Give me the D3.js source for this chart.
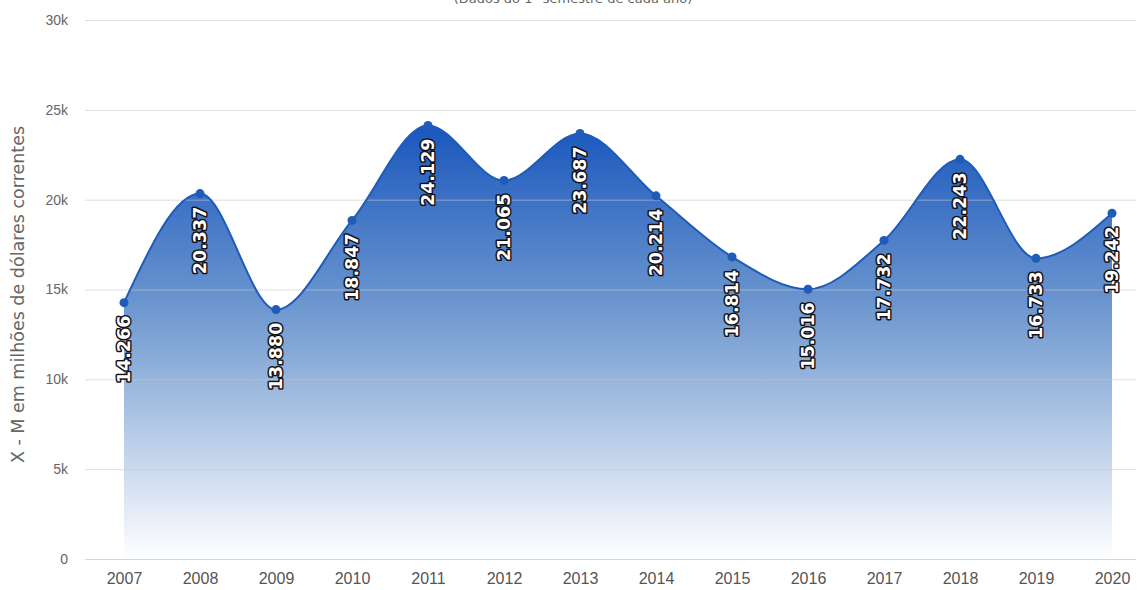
<!DOCTYPE html>
<html>
<head>
<meta charset="utf-8">
<script src="https://cdn.jsdelivr.net/npm/d3@7"></script>
<style>
  body { margin: 0; background: #fff; }
  svg { display: block; font-family: "DejaVu Sans", Verdana, sans-serif; }
</style>
</head>
<body>
<div id="chart"></div>
<script>
// data (saldo X - M, 1º semestre)
var years = [2007, 2008, 2009, 2010, 2011, 2012, 2013, 2014, 2015, 2016, 2017, 2018, 2019, 2020];
var saldo = [14266, 20337, 13880, 18847, 24129, 21065, 23687, 20214, 16814, 15016, 17732, 22243, 16733, 19242];
var yTicks = [0, 5000, 10000, 15000, 20000, 25000, 30000];
var subtitle = "(Dados do 1º semestre de cada ano)";
var yTitle = "X - M em milhões de dólares correntes";

var W = 1137, H = 590;
var margin = {top: 20, right: 1, bottom: 31, left: 85},
    width = W - margin.left - margin.right,
    height = H - margin.top - margin.bottom;

var svg = d3.select("#chart")
  .append("svg")
    .attr("width", W)
    .attr("height", H);

var g = svg.append("g")
    .attr("transform", "translate(" + margin.left + "," + margin.top + ")");

var x = d3.scalePoint()
  .domain(years)
  .range([124 - margin.left, 1112 - margin.left]);

var y = d3.scaleLinear()
  .domain([0, 30000])
  .range([height, 0]);

// gradient for the area
var defs = svg.append("defs");
var grad = defs.append("linearGradient")
    .attr("id", "areaGrad")
    .attr("x1", 0).attr("y1", 0).attr("x2", 0).attr("y2", 1);
grad.append("stop").attr("offset", "0%").attr("stop-color", "#1a57bd");
grad.append("stop").attr("offset", "42%").attr("stop-color", "#6d97cf");
grad.append("stop").attr("offset", "100%").attr("stop-color", "#ffffff");

var pts = years.map(function(yr, i) { return {year: yr, v: saldo[i]}; });

var area = d3.area()
  .x(d => x(d.year))
  .y0(y(0))
  .y1(d => y(d.v))
  .curve(d3.curveMonotoneX);

var line = d3.line()
  .x(d => x(d.year))
  .y(d => y(d.v))
  .curve(d3.curveMonotoneX);

g.append("path")
  .datum(pts)
  .attr("d", area)
  .attr("fill", "url(#areaGrad)");

// gridlines (drawn over the area, faintly)
var yAxisG = g.append("g")
  .call(d3.axisLeft(y).tickValues(yTicks).tickSize(-width)
    .tickFormat(d => d === 0 ? "0" : (d / 1000) + "k"));
yAxisG.select(".domain").remove();
yAxisG.selectAll(".tick line")
  .attr("stroke", "#c8c8c8")
  .attr("stroke-opacity", 0.6)
  .attr("stroke-width", 1);
yAxisG.selectAll(".tick text")
  .attr("x", -17)
  .attr("fill", "#666")
  .attr("font-size", 14);

// bottom axis line
g.append("line")
  .attr("x1", 0).attr("x2", width)
  .attr("y1", height + 0.5).attr("y2", height + 0.5)
  .attr("stroke", "#ccd6eb");

var xAxisG = g.append("g")
  .attr("transform", "translate(0," + height + ")")
  .call(d3.axisBottom(x).tickSize(0).tickPadding(14));
xAxisG.select(".domain").remove();
xAxisG.selectAll("text")
  .attr("fill", "#555")
  .attr("font-size", 16);

g.append("path")
  .datum(pts)
  .attr("d", line)
  .attr("fill", "none")
  .attr("stroke", "#1f5bb8")
  .attr("stroke-width", 2);

g.selectAll("circle.pt")
  .data(pts)
  .join("circle")
    .attr("class", "pt")
    .attr("cx", d => x(d.year))
    .attr("cy", d => y(d.v))
    .attr("r", 4.5)
    .attr("fill", "#1f5bb8");

// rotated data labels, white with dark outline
g.selectAll("text.lbl")
  .data(pts)
  .join("text")
    .attr("class", "lbl")
    .attr("transform", d => "translate(" + (x(d.year) + 6) + "," + (y(d.v) + 13) + ") rotate(-90)")
    .attr("text-anchor", "end")
    .attr("font-size", 17.5)
    .attr("font-weight", 700)
    .attr("fill", "#fff")
    .attr("stroke", "#111")
    .attr("stroke-width", 3)
    .attr("stroke-linejoin", "round")
    .attr("paint-order", "stroke")
    .text(d => d3.format(",")(d.v).replace(",", "."));

// y axis title
svg.append("text")
  .attr("transform", "translate(24," + (margin.top + height / 2 + 5) + ") rotate(-90)")
  .attr("text-anchor", "middle")
  .attr("fill", "#666")
  .attr("font-size", 17.5)
  .text(yTitle);

// subtitle, cut off at the top as in the picture
svg.append("text")
  .attr("x", 573)
  .attr("y", 3)
  .attr("text-anchor", "middle")
  .attr("fill", "#666")
  .attr("font-size", 13)
  .text(subtitle);
</script>
</body>
</html>
